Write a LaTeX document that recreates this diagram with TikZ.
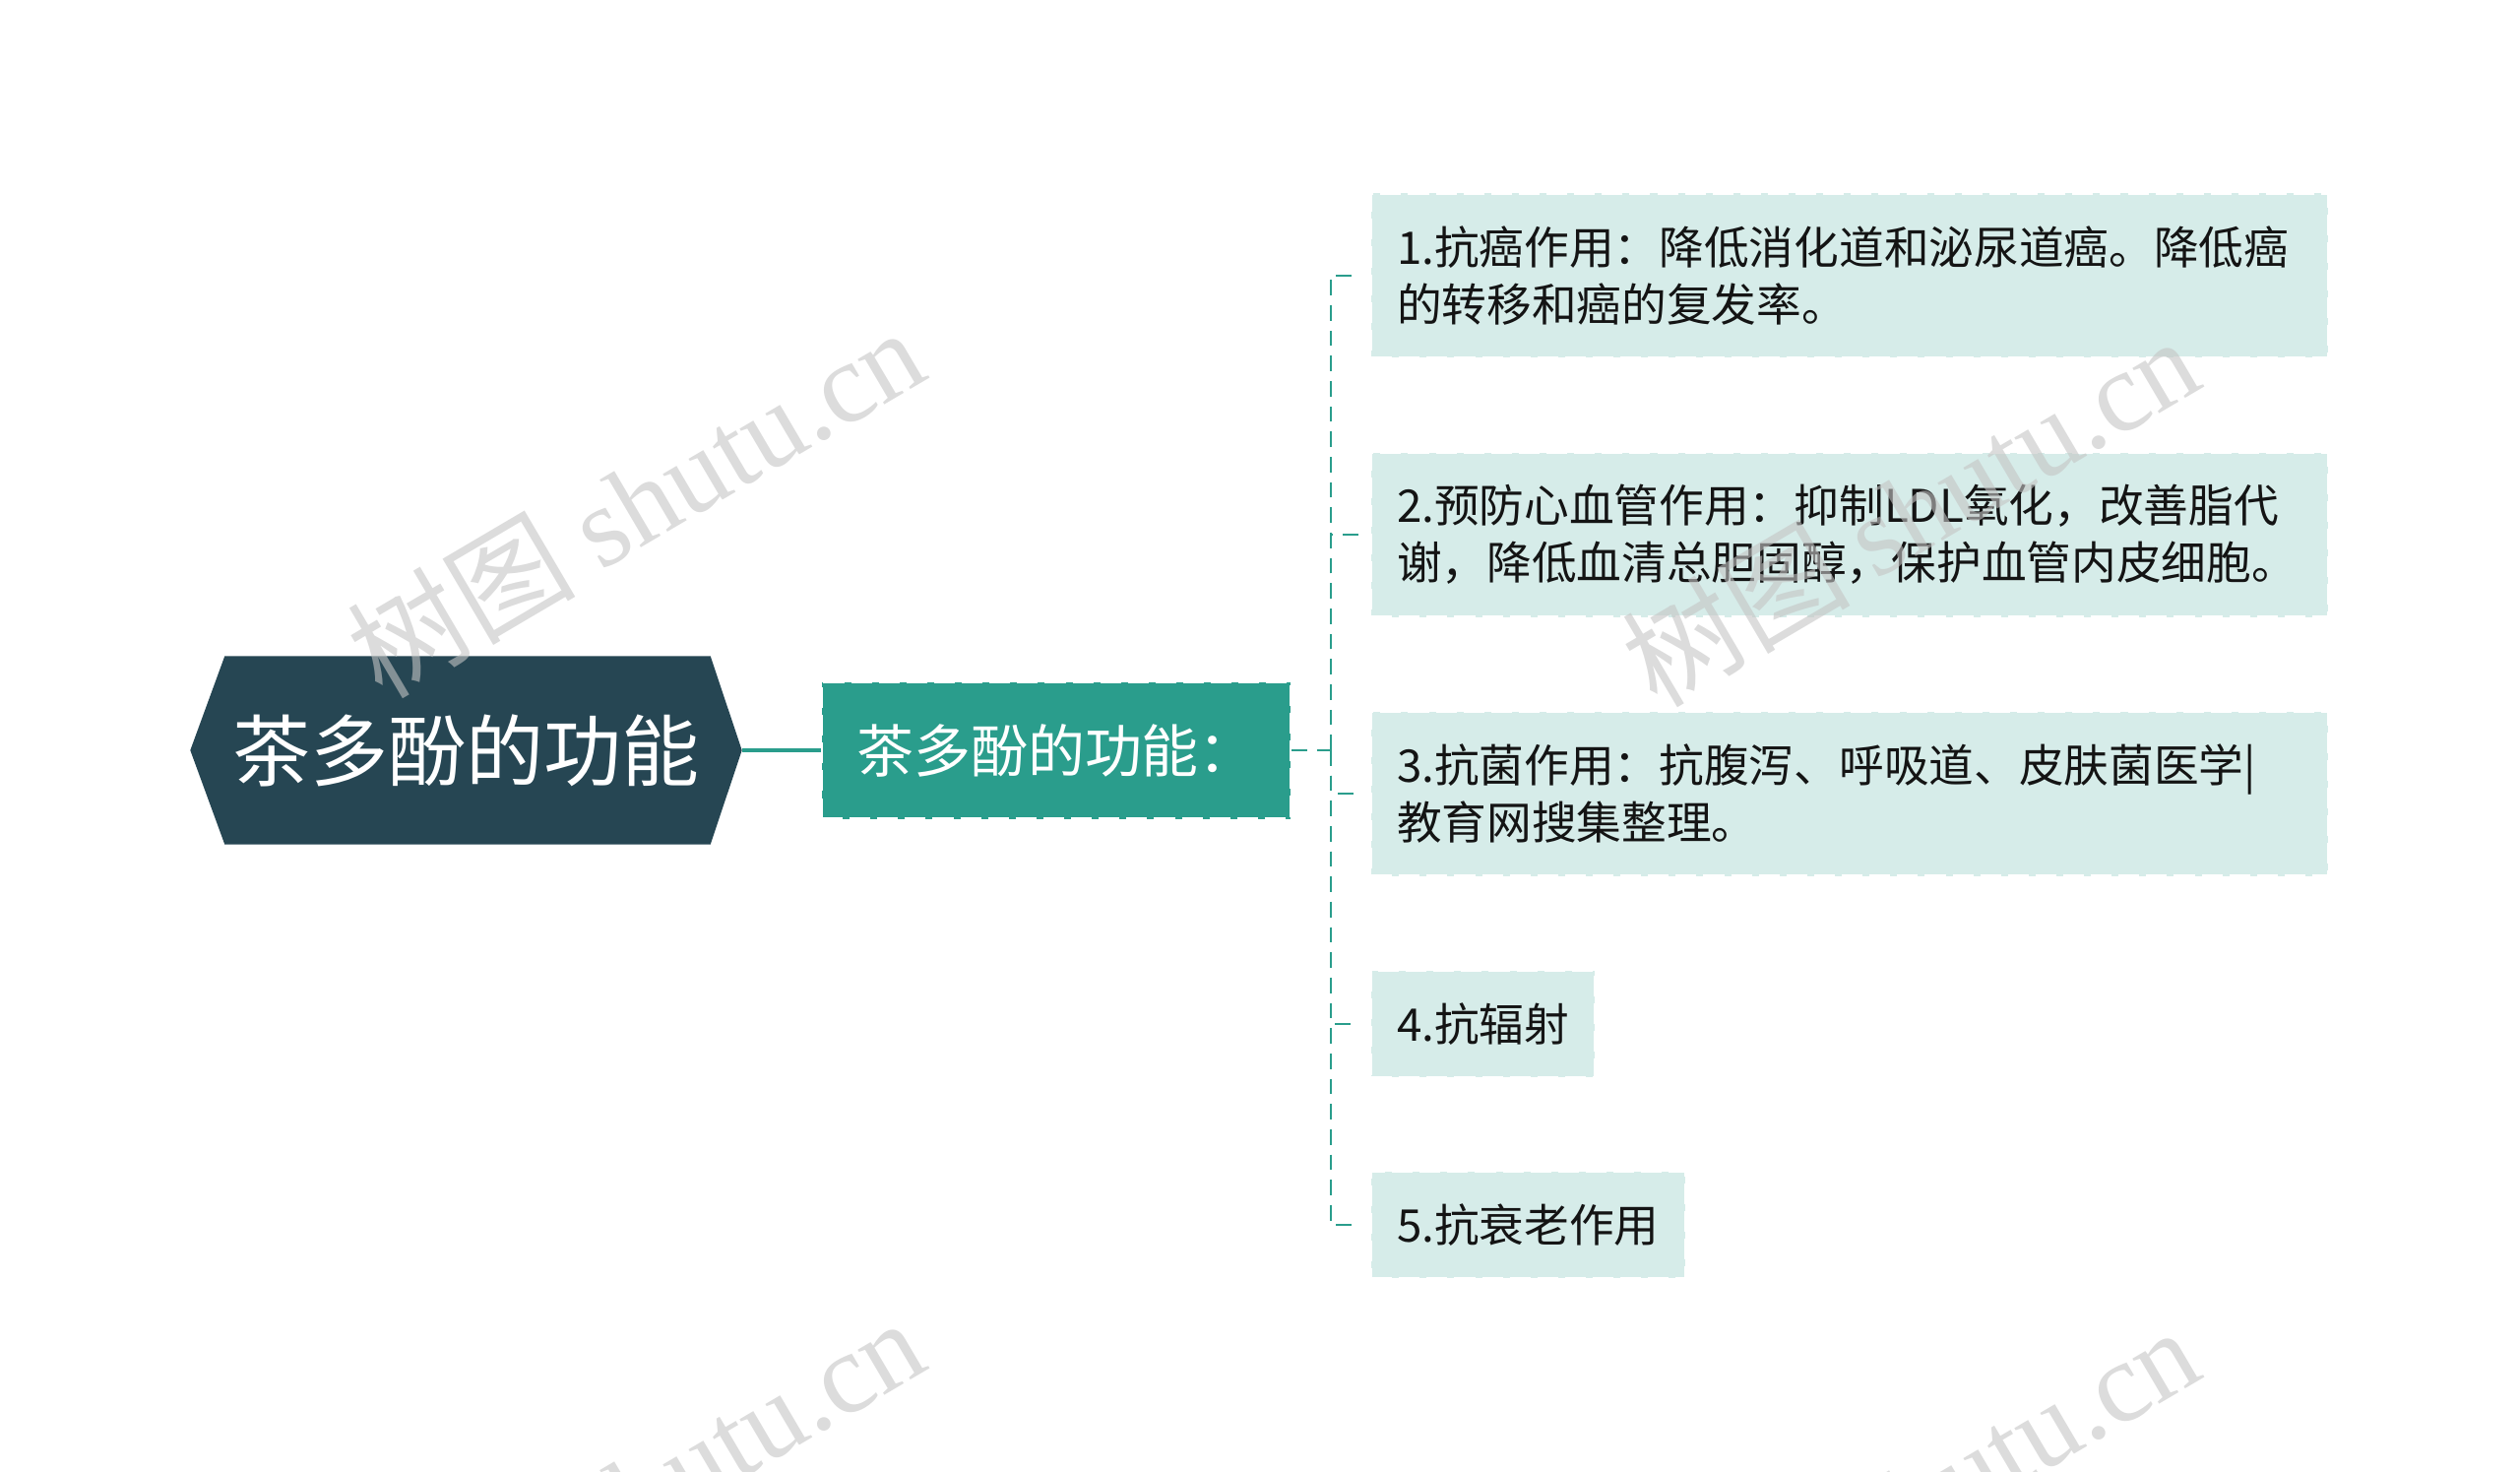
\documentclass[tikz,border=0pt]{standalone}
\usepackage{fontspec}
\setmainfont{Noto Sans CJK SC}
\newfontfamily\wmfont{Liberation Serif}
\usetikzlibrary{positioning,backgrounds}

\definecolor{rootcol}{HTML}{264653}
\definecolor{topiccol}{HTML}{2A9D8C}
\definecolor{leafcol}{HTML}{D6ECE9}
\definecolor{markcol}{HTML}{C4C4C4}

\tikzset{
  rootbox/.style={minimum width=5.59cm,minimum height=1.9cm,inner sep=0pt,
    text=white,font=\fontsize{22.5pt}{26pt}\selectfont},
  topicbox/.style={fill=topiccol,draw=white,line width=0.6pt,dash pattern=on 6pt off 2pt,
    minimum width=4.76cm,minimum height=1.39cm,text=white,font=\fontsize{16.5pt}{20pt}\selectfont},
  leafbox/.style={fill=leafcol,draw=white,line width=0.6pt,dash pattern=on 6pt off 2pt,
    anchor=west,inner xsep=0.26cm,align=left,text=black!92,font=\fontsize{13pt}{16.5pt}\selectfont},
  longleaf/.style={leafbox,text width=9.2cm,minimum height=1.67cm},
  shortleaf/.style={leafbox,minimum height=1.08cm},
  branch/.style={topiccol,line width=0.8pt,dash pattern=on 4.5pt off 2.8pt},
  watermark/.style={markcol,text opacity=0.6,rotate=30.5,font=\fontsize{33pt}{38pt}\selectfont}
}

\begin{document}
\begin{tikzpicture}
  \clip (0,0) rectangle (25.6,14.94);

  % centre and first level
  \node[rootbox] (root) at (4.735,7.32) {茶多酚的功能};
  \begin{scope}[on background layer]
    \fill[rootcol] (root.west) -- ([xshift=0.35cm]root.north west) -- ([xshift=-0.32cm]root.north east)
      -- (root.east) -- ([xshift=-0.32cm]root.south east) -- ([xshift=0.35cm]root.south west) -- cycle;
  \end{scope}
  \node[topicbox] (topic) at (10.73,7.32) {茶多酚的功能：};
  \coordinate (hub) at (13.52,7.32);

  % leaves
  \node[longleaf] (l1) at (13.92,12.14) {1.抗癌作用：降低消化道和泌尿道癌。降低癌\\的转移和癌的复发率。};
  \node[longleaf] (l2) at (13.92,9.51) {2.预防心血管作用：抑制LDL氧化，改善脂代\\谢，降低血清总胆固醇，保护血管内皮细胞。};
  \node[longleaf] (l3) at (13.92,6.88) {3.抗菌作用：抗腹泻、呼吸道、皮肤菌医学|\\教育网搜集整理。};
  \node[shortleaf] (l4) at (13.92,4.54) {4.抗辐射};
  \node[shortleaf] (l5) at (13.92,2.50) {5.抗衰老作用};

  % connectors
  \draw[topiccol,line width=1.4pt] (root.east) -- (topic.west);
  \draw[branch] (topic.east) -- (hub);
  \foreach \n in {l1,l2,l3,l4,l5}
    \draw[branch,shorten >=0.12cm] (hub) |- (\n.west);

  % watermarks
  \node[watermark] (wm1) at (6.45,9.85) {树图 {\wmfont shutu.cn}};
  \node[watermark] (wm2) at (19.40,9.76) {树图 {\wmfont shutu.cn}};
  \node[watermark] (wm3) at (6.45,-0.21) {树图 {\wmfont shutu.cn}};
  \node[watermark] (wm4) at (19.40,-0.30) {树图 {\wmfont shutu.cn}};
\end{tikzpicture}
\end{document}
